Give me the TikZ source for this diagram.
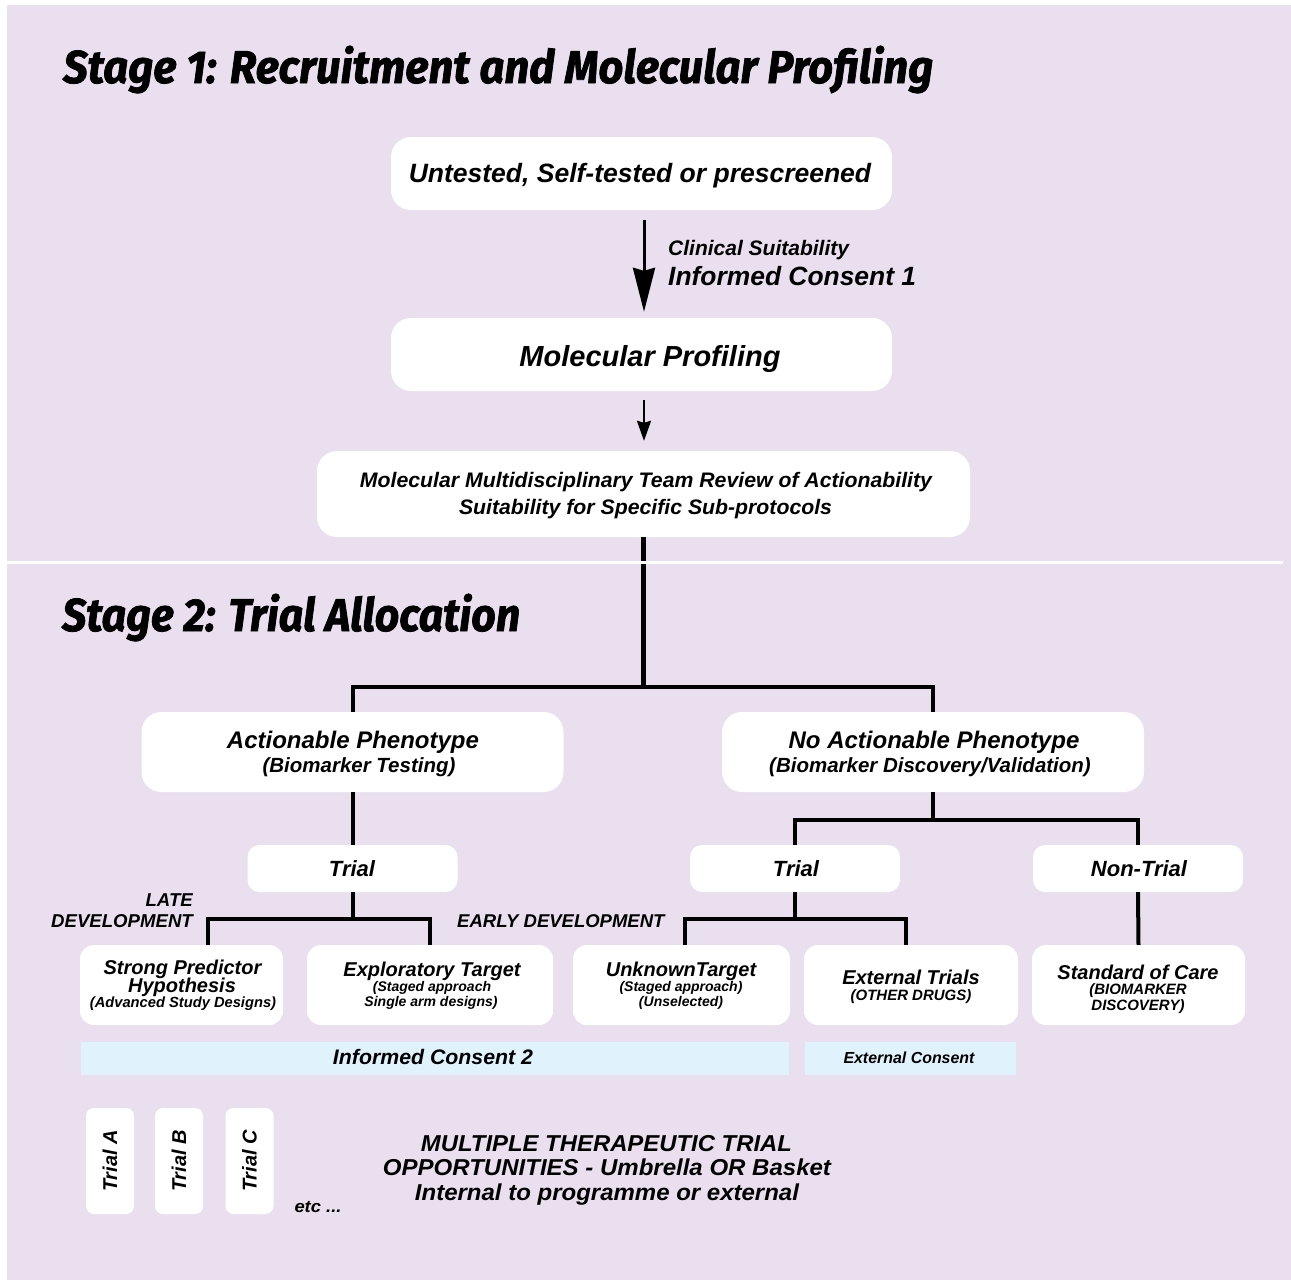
\documentclass[tikz,border=0pt]{standalone}
\usepackage{fontspec}
\usepackage{graphicx}
\setmainfont{Liberation Sans}
\newfontfamily\titlefont{Fira Sans}[BoldItalicFeatures={FakeBold=1.6}]
\usetikzlibrary{arrows.meta}
\definecolor{bgpurple}{RGB}{234,223,238}
\definecolor{consentblue}{RGB}{224,243,253}
% bold italic text at a given size (1pt = 1px in this picture)
\newcommand\bi[1]{\fontsize{#1}{#1}\selectfont\bfseries\itshape}
% squeeze a line horizontally to a given width, keeping its height
\newcommand\squeeze[2]{\resizebox{#1pt}{\height}{#2}}

\begin{document}
\begin{tikzpicture}[x=1pt,y=-1pt,
  card/.style={fill=white, draw=none, rounded corners=#1, inner sep=0pt},
  card/.default=20pt,
  consent/.style={fill=consentblue, draw=none, inner sep=0pt},
  txt/.style={inner sep=0pt, anchor=base},
  trunk/.style={line width=5pt},
  branch/.style={line width=4pt, line join=miter},
]
\useasboundingbox (0,0) rectangle (1291,1280);
\fill[white] (0,0) rectangle (1291,1280);
\fill[bgpurple] (7,5) rectangle (1291,1280);

% ---------- Stage 1 ----------
\node[txt, anchor=base west] (title1) at (63,83)
  {\squeeze{870}{\titlefont\bi{46}Stage 1: Recruitment and Molecular Profiling}};

\node[card, minimum width=501pt, minimum height=73pt] (top) at (641.5,173.5) {};
\node[txt] (ttop) at (640,182.5) {\bi{26.5}Untested, Self-tested or prescreened};

\node[card, minimum width=501pt, minimum height=73pt] (prof) at (641.5,354.5) {};
\node[txt] (tprof) at (650,366) {\bi{29}Molecular Profiling};

\node[card, minimum width=653pt, minimum height=86pt] (mdt) at (643.5,494) {};
\node[txt] (tmdt1) at (646,487.5)
  {\squeeze{572}{\bi{21}Molecular Multidisciplinary Team Review of Actionability}};
\node[txt] (tmdt2) at (645.5,514.5)
  {\squeeze{373}{\bi{21}Suitability for Specific Sub-protocols}};

\draw[line width=3pt, -{Stealth[length=44pt,width=22pt,inset=3pt]},
      shorten <=10pt, shorten >=6pt]
  ([xshift=2.5pt]top.south) -- ([xshift=2.5pt]prof.north);
\node[txt, anchor=base west] (lclin) at (668,255.5) {\bi{21}Clinical Suitability};
\node[txt, anchor=base west] (lic1) at (668,285.5) {\bi{26.4}Informed Consent 1};

\draw[line width=2.5pt, -{Stealth[length=20pt,width=14pt,inset=2pt]},
      shorten <=9pt, shorten >=10pt]
  ([xshift=2.5pt]prof.south) -- ([xshift=0.5pt]mdt.north);

% ---------- Stage 2 ----------
\coordinate (rowA) at (0,687);
\coordinate (rowB) at (0,820);
\coordinate (rowC) at (0,919);

\node[card, minimum width=422pt, minimum height=80pt] (act) at (352.5,752) {};
\node[txt] (tact1) at (353,748.6) {\bi{24}Actionable Phenotype};
\node[txt] (tact2) at (359,772.4) {\bi{20.5}(Biomarker Testing)};

\node[card, minimum width=422pt, minimum height=80pt] (noact) at (933,752) {};
\node[txt] (tnoact1) at (934,748.6) {\bi{24}No Actionable Phenotype};
\node[txt] (tnoact2) at (930,772.4) {\bi{20.5}(Biomarker Discovery/Validation)};

\node[card=12pt, minimum width=210pt, minimum height=47pt] (trialL) at (352.5,868.5) {};
\node[txt] (ttrialL) at (352,876) {\bi{22}Trial};
\node[card=12pt, minimum width=210pt, minimum height=47pt] (trialR) at (795,868.5) {};
\node[txt] (ttrialR) at (796,876) {\bi{22}Trial};
\node[card=12pt, minimum width=210pt, minimum height=47pt] (nontrial) at (1138,868.5) {};
\node[txt] (tnontrial) at (1139,876) {\bi{22}Non-Trial};

\node[card=14pt, minimum width=203pt, minimum height=80pt] (strong) at (181.5,985) {};
\node[txt] (tstrong1) at (182.5,974) {\bi{20}Strong Predictor};
\node[txt] (tstrong2) at (182,992) {\bi{20}Hypothesis};
\node[txt] (tstrong3) at (183,1007.3) {\bi{14.7}(Advanced Study Designs)};

\node[card=14pt, minimum width=246pt, minimum height=80pt] (explor) at (430,985) {};
\node[txt] (texplor1) at (432,976) {\bi{20}Exploratory Target};
\node[txt] (texplor2) at (432,991) {\bi{14}(Staged approach};
\node[txt] (texplor3) at (431,1006) {\bi{14}Single arm designs)};

\node[card=14pt, minimum width=217pt, minimum height=80pt] (unknown) at (681.5,985) {};
\node[txt] (tunknown1) at (681,976) {\bi{20}UnknownTarget};
\node[txt] (tunknown2) at (681,991) {\bi{14}(Staged approach)};
\node[txt] (tunknown3) at (681,1006) {\bi{14}(Unselected)};

\node[card=14pt, minimum width=214pt, minimum height=80pt] (external) at (911,985) {};
\node[txt] (texternal1) at (911,984) {\bi{20}External Trials};
\node[txt] (texternal2) at (911,1000.4) {\bi{15}(OTHER DRUGS)};

\node[card=14pt, minimum width=213pt, minimum height=80pt] (soc) at (1138.5,985) {};
\node[txt] (tsoc1) at (1138,979) {\bi{20}Standard of Care};
\node[txt] (tsoc2) at (1138,994.4) {\bi{15}(BIOMARKER};
\node[txt] (tsoc3) at (1138,1010.4) {\bi{15}DISCOVERY)};

\node[txt, anchor=base east] (llate1) at (193,906.7) {\bi{18.6}LATE};
\node[txt, anchor=base east] (llate2) at (193,927.7) {\bi{18.6}DEVELOPMENT};
\node[txt, anchor=base west] (learly) at (457,927.7) {\bi{18.5}EARLY DEVELOPMENT};

% consent bands
\node[consent, minimum width=708pt, minimum height=33pt] (ic2) at (435,1058.5) {};
\node[txt] (tic2) at (433,1064.5) {\squeeze{200}{\bi{21}Informed Consent 2}};
\node[consent, minimum width=211pt, minimum height=33pt] (extc) at (910.5,1058.5) {};
\node[txt] (textc) at (909,1063.7) {\squeeze{131}{\bi{16}External Consent}};

% individual trials
\node[card=8pt, minimum width=48pt, minimum height=106pt] (trialA) at (110,1161) {};
\node[rotate=90, inner sep=0pt] (ttrialA) at (trialA.center) {\bi{20}Trial A};
\node[card=8pt, minimum width=48pt, minimum height=106pt] (trialB) at (179,1161) {};
\node[rotate=90, inner sep=0pt] (ttrialB) at (trialB.center) {\bi{20}Trial B};
\node[card=8pt, minimum width=48pt, minimum height=106pt] (trialC) at (249.5,1161) {};
\node[rotate=90, inner sep=0pt] (ttrialC) at (trialC.center) {\bi{20}Trial C};
\node[txt] (tetc) at (318,1212) {\squeeze{47}{\bi{17}etc ...}};

\node[txt] (tmulti1) at (606.5,1151) {\squeeze{371}{\bi{23}MULTIPLE THERAPEUTIC TRIAL}};
\node[txt] (tmulti2) at (607,1175) {\squeeze{448}{\bi{23}OPPORTUNITIES - Umbrella OR Basket}};
\node[txt] (tmulti3) at (607,1200) {\squeeze{384}{\bi{23}Internal to programme or external}};

% ---------- tree connectors ----------
\draw[trunk] (mdt.south) -- (mdt.south |- rowA);
\draw[branch] (act.north) -- (act.north |- rowA) -- (noact.north |- rowA) -- (noact.north);
\draw[branch] (act.south) -- (trialL.north);
\draw[branch] (noact.south) -- (noact.south |- rowB);
\draw[branch] (trialR.north) -- (trialR.north |- rowB) -- (nontrial.north |- rowB) -- (nontrial.north);
\draw[branch] (trialL.south) -- (trialL.south |- rowC);
\draw[branch] ([xshift=26.5pt]strong.north) -- ([xshift=26.5pt]strong.north |- rowC)
  -- (explor.north |- rowC) -- (explor.north);
\draw[branch] (trialR.south) -- (trialR.south |- rowC);
\draw[branch] ([xshift=3.5pt]unknown.north) -- ([xshift=3.5pt]unknown.north |- rowC)
  -- ([xshift=-5pt]external.north |- rowC) -- ([xshift=-5pt]external.north);
\draw[branch] (nontrial.south) -- (soc.north);

% stage divider, drawn over the trunk
\draw[white, line width=3pt] (7,562) -- (1283,562);

\node[txt, anchor=base west] (title2) at (62,631)
  {\squeeze{458}{\titlefont\bi{46}Stage 2: Trial Allocation}};
\end{tikzpicture}
\end{document}
